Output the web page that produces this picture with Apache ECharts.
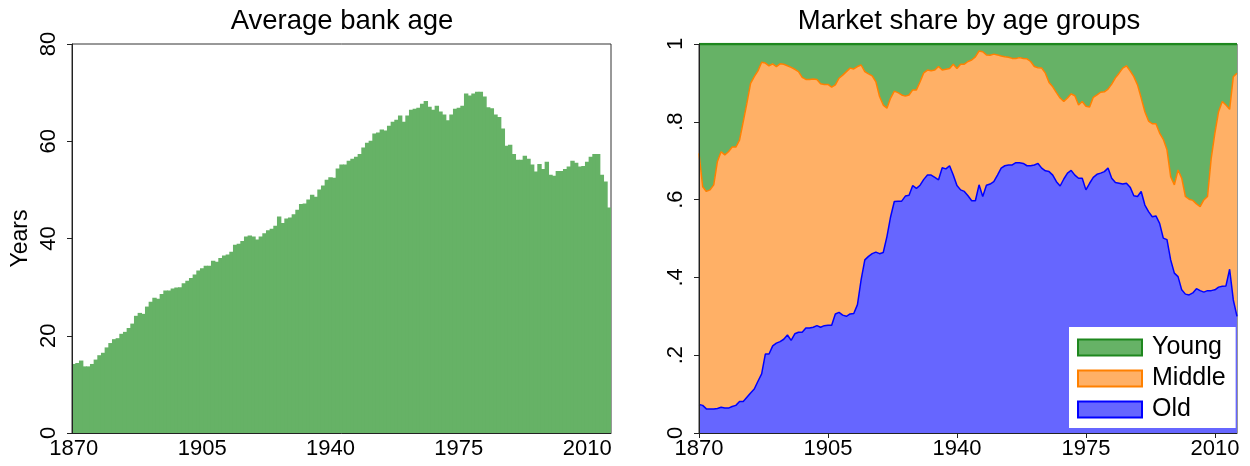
<!DOCTYPE html>
<html>
<head>
<meta charset="utf-8">
<script src="https://cdn.jsdelivr.net/npm/echarts@6/dist/echarts.min.js"></script>
<style>
  html, body { margin: 0; padding: 0; background: #fff; }
  #chart { width: 1250px; height: 466px; }
</style>
</head>
<body>
<div id="chart"></div>
<script>
// years 1870..2016
const years = [];
for (let y = 1870; y <= 2016; y++) years.push(String(y));
const xTickYears = ["1870", "1905", "1940", "1975", "2010"];
const shareTickLabels = ["0", ".2", ".4", ".6", ".8", "1"];

// average bank age (years)
const bankAge = [
  14.2, 14.4, 14.9, 13.7, 13.7, 14.2, 15.1, 16.0, 16.5, 17.6,
  18.5, 19.3, 19.5, 20.4, 20.8, 21.6, 22.5, 24.1, 24.7, 24.5,
  26.0, 27.0, 27.8, 27.6, 28.6, 29.3, 29.3, 29.7, 29.9, 30.0,
  30.8, 31.3, 31.9, 32.6, 33.4, 33.9, 34.4, 34.4, 35.4, 35.2,
  36.0, 36.5, 36.7, 37.3, 38.7, 38.9, 39.5, 40.4, 40.6, 40.4,
  39.8, 40.4, 41.1, 41.7, 42.0, 42.6, 44.5, 43.2, 44.1, 44.3,
  45.0, 45.9, 47.1, 47.2, 48.0, 49.0, 48.6, 50.1, 50.9, 52.1,
  52.6, 52.5, 54.4, 55.2, 55.2, 56.0, 56.4, 56.8, 57.4, 58.7,
  59.7, 60.1, 61.6, 61.8, 62.4, 62.2, 63.2, 64.0, 64.4, 65.3,
  64.0, 65.3, 66.5, 66.7, 66.9, 67.7, 68.3, 67.1, 66.5, 67.3,
  66.1, 65.5, 64.3, 65.5, 66.7, 66.9, 67.3, 69.8, 69.4, 69.8,
  70.2, 70.2, 69.2, 67.0, 66.8, 65.5, 65.0, 62.6, 59.1, 59.3,
  57.4, 56.2, 56.2, 57.0, 56.4, 55.2, 53.8, 55.3, 54.3, 55.8,
  53.1, 52.9, 53.9, 53.9, 54.3, 54.8, 56.0, 55.6, 54.8, 54.9,
  55.8, 56.8, 57.4, 57.4, 53.1, 51.7, 46.4
];

// market share of old banks
const oldShare = [
  0.073, 0.071, 0.062, 0.062, 0.062, 0.063, 0.066, 0.064, 0.064, 0.068,
  0.071, 0.081, 0.081, 0.092, 0.103, 0.113, 0.133, 0.152, 0.203, 0.203,
  0.224, 0.231, 0.235, 0.241, 0.252, 0.238, 0.255, 0.259, 0.259, 0.270,
  0.270, 0.272, 0.276, 0.272, 0.276, 0.277, 0.277, 0.306, 0.310, 0.303,
  0.300, 0.306, 0.307, 0.330, 0.394, 0.445, 0.454, 0.461, 0.465, 0.461,
  0.464, 0.505, 0.556, 0.595, 0.596, 0.596, 0.609, 0.611, 0.636, 0.629,
  0.637, 0.652, 0.663, 0.663, 0.657, 0.651, 0.682, 0.679, 0.687, 0.663,
  0.636, 0.625, 0.621, 0.610, 0.597, 0.597, 0.638, 0.608, 0.637, 0.640,
  0.646, 0.663, 0.681, 0.687, 0.689, 0.689, 0.695, 0.695, 0.693, 0.687,
  0.687, 0.689, 0.693, 0.681, 0.674, 0.672, 0.663, 0.646, 0.635, 0.653,
  0.668, 0.675, 0.663, 0.655, 0.655, 0.625, 0.642, 0.657, 0.665, 0.668,
  0.672, 0.681, 0.655, 0.644, 0.642, 0.640, 0.642, 0.632, 0.610, 0.608,
  0.621, 0.586, 0.569, 0.556, 0.558, 0.539, 0.501, 0.497, 0.445, 0.411,
  0.402, 0.368, 0.357, 0.355, 0.360, 0.371, 0.366, 0.362, 0.366, 0.366,
  0.368, 0.375, 0.377, 0.378, 0.421, 0.342, 0.300
];

// cumulative share of old + middle banks (upper edge of the orange band)
const oldMiddleShare = [
  0.719, 0.633, 0.621, 0.625, 0.638, 0.698, 0.723, 0.715, 0.723, 0.735,
  0.735, 0.753, 0.800, 0.848, 0.899, 0.916, 0.931, 0.953, 0.951, 0.944,
  0.949, 0.942, 0.949, 0.948, 0.944, 0.940, 0.935, 0.929, 0.914, 0.909,
  0.909, 0.910, 0.909, 0.898, 0.896, 0.896, 0.889, 0.895, 0.912, 0.920,
  0.929, 0.938, 0.936, 0.942, 0.946, 0.929, 0.923, 0.918, 0.903, 0.865,
  0.843, 0.835, 0.861, 0.879, 0.875, 0.869, 0.866, 0.869, 0.882, 0.882,
  0.903, 0.926, 0.933, 0.931, 0.933, 0.942, 0.933, 0.935, 0.937, 0.948,
  0.937, 0.948, 0.948, 0.955, 0.959, 0.967, 0.982, 0.980, 0.972, 0.971,
  0.974, 0.972, 0.969, 0.967, 0.966, 0.963, 0.963, 0.965, 0.963, 0.962,
  0.955, 0.942, 0.939, 0.938, 0.925, 0.901, 0.890, 0.875, 0.861, 0.852,
  0.861, 0.872, 0.867, 0.843, 0.852, 0.840, 0.838, 0.863, 0.869, 0.876,
  0.877, 0.884, 0.897, 0.913, 0.925, 0.938, 0.944, 0.931, 0.916, 0.895,
  0.861, 0.826, 0.802, 0.795, 0.795, 0.771, 0.755, 0.728, 0.659, 0.638,
  0.676, 0.655, 0.608, 0.601, 0.598, 0.589, 0.582, 0.599, 0.608, 0.706,
  0.771, 0.826, 0.852, 0.843, 0.832, 0.916, 0.925
];

const middleShare = oldMiddleShare.map((v, i) => +(v - oldShare[i]).toFixed(3));
const youngShare = oldMiddleShare.map((v) => +(1 - v).toFixed(3));

const font = "'Liberation Sans', Arial, sans-serif";
const axisColor = "#222";
const green = { fill: "#66b266", line: "#1e871e" };
const orange = { fill: "#ffb066", line: "#ff8000" };
const blue = { fill: "#6666ff", line: "#0000ff" };

const isTick = (idx, val) => xTickYears.includes(String(val));

function xAxis(gridIndex, gap) {
  return {
    gridIndex,
    type: "category",
    data: years,
    boundaryGap: gap,
    axisLine: { lineStyle: { color: axisColor, width: 1 } },
    axisTick: { length: 5, alignWithLabel: true, interval: isTick, lineStyle: { color: axisColor } },
    axisLabel: { interval: isTick, color: "#000", fontSize: 22, fontFamily: font, margin: 5 },
    splitLine: { show: false },
    z: 5,
  };
}

function yAxis(gridIndex, max, interval, fmt) {
  return {
    gridIndex,
    type: "value",
    min: 0,
    max,
    interval,
    axisLine: { show: true, lineStyle: { color: axisColor, width: 1 } },
    axisTick: { show: true, length: 5, lineStyle: { color: axisColor } },
    axisLabel: { rotate: 90, color: "#000", fontSize: 22, fontFamily: font, margin: 12, formatter: fmt },
    splitLine: { show: false },
    z: 5,
  };
}

const chart = echarts.init(document.getElementById("chart"));
chart.setOption({
  animation: false,
  backgroundColor: "#fff",
  title: [
    { text: "Average bank age", left: 337, top: 2, textAlign: "center",
      textStyle: { fontSize: 27.5, fontWeight: "normal", color: "#000", fontFamily: font } },
    { text: "Market share by age groups", left: 964, top: 2, textAlign: "center",
      textStyle: { fontSize: 27.5, fontWeight: "normal", color: "#000", fontFamily: font } },
  ],
  grid: [
    { left: 72, right: 639, top: 44, bottom: 33, show: true, borderColor: "#333", borderWidth: 1, outerBoundsMode: "none" },
    { left: 699, right: 13, top: 44, bottom: 33, show: true, borderColor: "#333", borderWidth: 1, outerBoundsMode: "none" },
  ],
  xAxis: [xAxis(0, true), xAxis(1, false)],
  yAxis: [
    Object.assign(yAxis(0, 80, 20), {
      name: "Years",
      nameLocation: "middle",
      nameGap: 40,
      nameTextStyle: { fontSize: 23, color: "#000", fontFamily: font },
    }),
    yAxis(1, 1, 0.2, (v) => shareTickLabels[Math.round(v / 0.2)]),
  ],
  legend: {
    show: true,
    z: 20,
    orient: "vertical",
    left: 1069,
    top: 327,
    backgroundColor: "#fff",
    padding: [8, 10, 6, 8],
    itemWidth: 64,
    itemHeight: 16,
    itemGap: 6,
    textStyle: { fontSize: 25, color: "#000", fontFamily: font, lineHeight: 24, padding: [0, 0, 0, 5] },
    data: [
      { name: "Young", icon: "rect", itemStyle: { color: green.fill, borderColor: green.line, borderWidth: 2 } },
      { name: "Middle", icon: "rect", itemStyle: { color: orange.fill, borderColor: orange.line, borderWidth: 2 } },
      { name: "Old", icon: "rect", itemStyle: { color: blue.fill, borderColor: blue.line, borderWidth: 2 } },
    ],
  },
  series: [
    {
      type: "bar",
      xAxisIndex: 0,
      yAxisIndex: 0,
      data: bankAge,
      barWidth: 4.4,
      itemStyle: { color: green.fill },
    },
    {
      name: "Old",
      type: "line",
      xAxisIndex: 1,
      yAxisIndex: 1,
      stack: "share",
      data: oldShare,
      showSymbol: false,
      lineStyle: { color: blue.line, width: 1.5 },
      itemStyle: { color: blue.fill },
      areaStyle: { color: blue.fill, opacity: 1 },
      z: 4,
    },
    {
      name: "Middle",
      type: "line",
      xAxisIndex: 1,
      yAxisIndex: 1,
      stack: "share",
      data: middleShare,
      showSymbol: false,
      lineStyle: { color: orange.line, width: 1.5 },
      itemStyle: { color: orange.fill },
      areaStyle: { color: orange.fill, opacity: 1 },
      z: 3,
    },
    {
      name: "Young",
      type: "line",
      xAxisIndex: 1,
      yAxisIndex: 1,
      stack: "share",
      data: youngShare,
      showSymbol: false,
      lineStyle: { color: green.line, width: 2.5 },
      itemStyle: { color: green.fill },
      areaStyle: { color: green.fill, opacity: 1 },
      z: 2,
    },
  ],
});
</script>
</body>
</html>
